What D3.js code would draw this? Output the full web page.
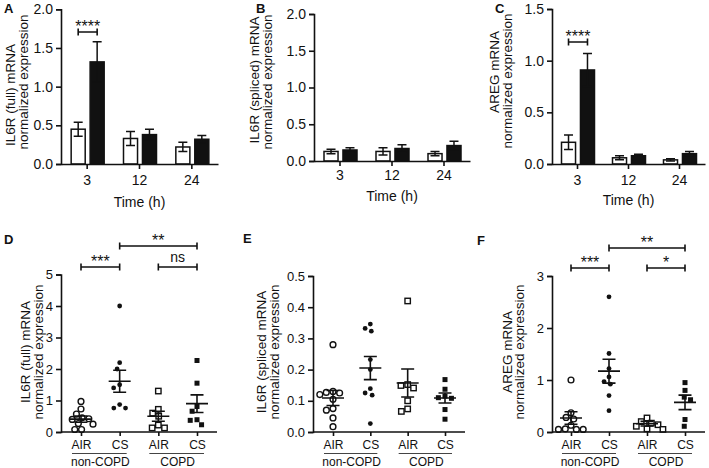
<!DOCTYPE html>
<html>
<head>
<meta charset="utf-8">
<script src="https://cdn.jsdelivr.net/npm/d3@7"></script>
<style>
  body { margin: 0; background: #fff; }
  svg { font-family: "Liberation Sans", Arial, sans-serif; }
</style>
</head>
<body>
<svg id="fig" width="709" height="468"></svg>
<script>
// ---- data ----
var times = ["3", "12", "24"];

var aAir = [0.45, 0.33, 0.22], aAirErr = [0.09, 0.09, 0.06];
var aCs = [1.32, 0.38, 0.32], aCsErr = [0.26, 0.07, 0.05];

var bAir = [0.13, 0.13, 0.10], bAirErr = [0.03, 0.05, 0.03];
var bCs = [0.15, 0.17, 0.21], bCsErr = [0.03, 0.05, 0.06];

var cAir = [0.21, 0.06, 0.04], cAirErr = [0.07, 0.02, 0.01];
var cCs = [0.91, 0.08, 0.10], cCsErr = [0.16, 0.015, 0.02];

var groups = ["ncAIR", "ncCS", "cAIR", "cCS"];
var groupLabels = ["AIR", "CS", "AIR", "CS"];
var cohortLabels = ["non-COPD", "COPD"];

var dPts = [
  [0.97, 0.73, 0.57, 0.45, 0.42, 0.40, 0.27, 0.25, 0.08, 0.08],
  [4.0, 2.2, 2.0, 1.5, 1.4, 0.87, 0.76, 0.76],
  [1.3, 0.72, 0.6, 0.5, 0.22, 0.13, 0.13],
  [2.27, 1.55, 0.81, 0.66, 0.39, 0.37, 0.23]
];
var dMean = [0.41, 1.61, 0.50, 0.90], dSem = [0.10, 0.35, 0.16, 0.28];

var ePts = [
  [0.28, 0.13, 0.127, 0.125, 0.12, 0.105, 0.075, 0.07, 0.045, 0.017],
  [0.346, 0.332, 0.323, 0.232, 0.2, 0.139, 0.125, 0.118, 0.027],
  [0.42, 0.152, 0.149, 0.141, 0.1, 0.074, 0.066],
  [0.168, 0.137, 0.115, 0.11, 0.108, 0.072, 0.041]
];
var eMean = [0.109, 0.205, 0.157, 0.109], eSem = [0.024, 0.037, 0.045, 0.016];

var fPts = [
  [1.0, 0.37, 0.28, 0.25, 0.13, 0.06, 0.05, 0.05, 0.05],
  [2.6, 1.51, 1.22, 1.06, 0.97, 0.92, 0.7, 0.41],
  [0.27, 0.2, 0.17, 0.14, 0.11, 0.06, 0.05],
  [0.95, 0.8, 0.67, 0.62, 0.24, 0.11]
];
var fMean = [0.27, 1.17, 0.16, 0.57], fSem = [0.12, 0.23, 0.045, 0.14];

var svg = d3.select("#fig");
var ink = "#111";

function yTitle(g, lines, xs, yc) {
  lines.forEach(function (t, i) {
    g.append("text")
      .attr("transform", "translate(" + xs[i] + "," + yc[i] + ") rotate(-90)")
      .attr("text-anchor", "middle").attr("dominant-baseline", "central")
      .attr("font-size", 13.5).attr("fill", ink).text(t);
  });
}

function letter(t, x, y) {
  svg.append("text").attr("x", x).attr("y", y).attr("font-size", 13)
    .attr("font-weight", "bold").attr("fill", ink).text(t);
}

function bracket(g, x1, x2, y, label, size, dy) {
  g.append("path")
    .attr("d", "M" + x1 + "," + (y - 3.5) + "V" + (y + 3.5) + "M" + x1 + "," + y + "H" + x2 +
      "M" + x2 + "," + (y - 3.5) + "V" + (y + 3.5))
    .attr("stroke", ink).attr("stroke-width", 1.6).attr("fill", "none");
  g.append("text").attr("x", (x1 + x2) / 2).attr("y", y + dy)
    .attr("text-anchor", "middle").attr("font-size", size).attr("fill", ink).text(label);
}

function styleAxis(a) {
  a.select(".domain").attr("stroke", ink).attr("stroke-width", 1.6);
  a.selectAll(".tick line").attr("stroke", ink).attr("stroke-width", 1.6);
  a.selectAll(".tick text").attr("fill", ink);
}

// ---- bar panels ----
function barPanel(p) {
  var g = svg.append("g");
  var x = d3.scaleBand().domain(times).range([p.x0, p.x1]);
  var y = d3.scaleLinear().domain([0, p.max]).range([p.yb, p.yt]);
  var inner = d3.scaleBand().domain(["air", "cs"]).range([-16, 17]).paddingInner(0.26);

  var series = [
    { key: "air", v: p.air, e: p.airErr, fill: "#fff" },
    { key: "cs", v: p.cs, e: p.csErr, fill: ink }
  ];
  series.forEach(function (s) {
    times.forEach(function (t, i) {
      var cx = x(t) + x.bandwidth() / 2 + inner(s.key);
      var mid = cx + inner.bandwidth() / 2;
      g.append("rect").attr("x", cx).attr("y", y(s.v[i]))
        .attr("width", inner.bandwidth()).attr("height", y(0) - y(s.v[i]))
        .attr("fill", s.fill).attr("stroke", ink).attr("stroke-width", 1.5);
      var hi = y(s.v[i] + s.e[i]), lo = y(Math.max(0, s.v[i] - s.e[i]));
      g.append("path")
        .attr("d", "M" + mid + "," + lo + "V" + hi + "M" + (mid - 4.5) + "," + hi + "H" + (mid + 4.5) +
          "M" + (mid - 4.5) + "," + lo + "H" + (mid + 4.5))
        .attr("stroke", ink).attr("stroke-width", 1.5).attr("fill", "none");
    });
  });

  var ya = g.append("g").attr("transform", "translate(" + p.x0 + ",0)")
    .call(d3.axisLeft(y).tickValues(p.ticks).tickFormat(d3.format(".1f")).tickSize(5).tickPadding(3));
  ya.selectAll("text").attr("font-size", 14);
  styleAxis(ya);
  var xa = g.append("g").attr("transform", "translate(0," + p.yb + ")")
    .call(d3.axisBottom(x).tickSize(5).tickSizeOuter(0).tickPadding(p.tickPad));
  xa.selectAll("text").attr("font-size", 14);
  styleAxis(xa);

  g.append("text").attr("x", (p.x0 + p.x1) / 2).attr("y", p.timeY).attr("text-anchor", "middle")
    .attr("font-size", 14).attr("fill", ink).text("Time (h)");
  yTitle(g, p.title, p.titleX, p.titleY);

  if (p.sig) {
    var c = x(times[0]) + x.bandwidth() / 2;
    bracket(g, c + inner("air") + inner.bandwidth() / 2, c + inner("cs") + inner.bandwidth() / 2,
      p.sig, "****", 16, 0);
  }
}

barPanel({ x0: 61, x1: 218, yb: 164, yt: 9.3, max: 2, ticks: [0, 0.5, 1, 1.5, 2],
  air: aAir, airErr: aAirErr, cs: aCs, csErr: aCsErr, tickPad: 6, timeY: 207,
  title: ["IL6R (full) mRNA", "normalized expression"], titleX: [10.5, 23.5], titleY: [95, 82], sig: 32 });
barPanel({ x0: 314, x1: 470, yb: 161, yt: 14, max: 2, ticks: [0, 0.5, 1, 1.5, 2],
  air: bAir, airErr: bAirErr, cs: bCs, csErr: bCsErr, tickPad: 4, timeY: 201,
  title: ["IL6R (spliced) mRNA", "normalized expression"], titleX: [254, 267.5], titleY: [80, 82] });
barPanel({ x0: 552, x1: 705, yb: 164, yt: 9, max: 1.5, ticks: [0, 0.5, 1, 1.5],
  air: cAir, airErr: cAirErr, cs: cCs, csErr: cCsErr, tickPad: 6, timeY: 205,
  title: ["AREG mRNA", "normalized expression"], titleX: [494, 507.5], titleY: [72, 81], sig: 42 });

letter("A", 4, 13);
letter("B", 256, 13);
letter("C", 495, 13);

// ---- scatter panels ----
function swarm(vals, y, diam) {
  var placed = [];
  return vals.map(function (v) {
    var py = y(v), blocked = [];
    placed.forEach(function (q) {
      var dy = Math.abs(q.y - py);
      if (dy < diam) {
        var dx = Math.sqrt(diam * diam - dy * dy);
        blocked.push([q.x - dx, q.x + dx]);
      }
    });
    var cands = [0];
    blocked.forEach(function (b) { cands.push(b[0], b[1]); });
    cands.sort(function (a, b) { return Math.abs(a) - Math.abs(b); });
    var px = cands.find(function (c) {
      return blocked.every(function (b) { return c <= b[0] + 1e-6 || c >= b[1] - 1e-6; });
    });
    placed.push({ x: px, y: py });
    return px;
  });
}

function dotPanel(p) {
  var g = svg.append("g");
  var x = d3.scalePoint().domain(groups).range(p.xr);
  var y = d3.scaleLinear().domain([0, p.max]).range([432, p.yt]);

  groups.forEach(function (grp, i) {
    var cx = x(grp);
    var offs = swarm(p.pts[i], y, 6.8);
    p.pts[i].forEach(function (v, j) {
      var px = cx + offs[j], py = y(v);
      if (i < 2) {
        g.append("circle").attr("cx", px).attr("cy", py).attr("r", i === 0 ? 2.9 : 2.4)
          .attr("fill", i === 0 ? "#fff" : ink).attr("stroke", ink).attr("stroke-width", i === 0 ? 1.4 : 0);
      } else {
        var s = i === 2 ? 5.4 : 5;
        g.append("rect").attr("x", px - s / 2).attr("y", py - s / 2).attr("width", s).attr("height", s)
          .attr("fill", i === 2 ? "#fff" : ink).attr("stroke", ink).attr("stroke-width", i === 2 ? 1.4 : 0);
      }
    });
    var m = y(p.mean[i]), hi = y(p.mean[i] + p.sem[i]), lo = y(p.mean[i] - p.sem[i]);
    g.append("path")
      .attr("d", "M" + (cx - 11) + "," + m + "H" + (cx + 11) + "M" + cx + "," + hi + "V" + lo +
        "M" + (cx - 6.5) + "," + hi + "H" + (cx + 6.5) + "M" + (cx - 6.5) + "," + lo + "H" + (cx + 6.5))
      .attr("stroke", ink).attr("stroke-width", 1.6).attr("fill", "none");
  });

  var ya = g.append("g").attr("transform", "translate(" + p.x0 + ",0)")
    .call(d3.axisLeft(y).tickValues(p.ticks).tickFormat(d3.format(p.fmt)).tickSize(5).tickPadding(3));
  ya.selectAll("text").attr("font-size", 13);
  styleAxis(ya);
  var xa = g.append("g").attr("transform", "translate(0,432)")
    .call(d3.axisBottom(x).tickSize(4).tickSizeOuter(0).tickPadding(4)
      .tickFormat(function (d, i) { return groupLabels[i]; }));
  xa.select(".domain").attr("d", "M" + p.x0 + ",0H" + p.x1);
  xa.selectAll("text").attr("font-size", 12);
  styleAxis(xa);

  cohortLabels.forEach(function (t, k) {
    var a = x(groups[2 * k]), b = x(groups[2 * k + 1]);
    g.append("line").attr("x1", a - 9).attr("x2", b + 7).attr("y1", 453.5).attr("y2", 453.5)
      .attr("stroke", "#444").attr("stroke-width", 1);
    g.append("text").attr("x", (a + b) / 2).attr("y", 465.5).attr("text-anchor", "middle")
      .attr("font-size", 12).attr("fill", ink).text(t);
  });

  yTitle(g, p.title, p.titleX, [352, 352]);

  (p.sig || []).forEach(function (s) {
    bracket(g, x(groups[s[0]]), x(groups[s[1]]), s[2], s[3], s[3] === "ns" ? 14 : 16, s[3] === "ns" ? -5 : 0);
  });
}

dotPanel({ x0: 61, x1: 217, xr: [81, 197], yt: 274.5, max: 5, ticks: [0, 1, 2, 3, 4, 5], fmt: "d",
  pts: dPts, mean: dMean, sem: dSem,
  title: ["IL6R (full) mRNA", "normalized expression"], titleX: [25, 38],
  sig: [[1, 3, 246, "**"], [0, 1, 267, "***"], [2, 3, 267, "ns"]] });
dotPanel({ x0: 313, x1: 465, xr: [333, 445], yt: 276, max: 0.5, ticks: [0, 0.1, 0.2, 0.3, 0.4, 0.5], fmt: ".1f",
  pts: ePts, mean: eMean, sem: eSem,
  title: ["IL6R (spliced mRNA", "normalized expression"], titleX: [261, 274] });
dotPanel({ x0: 552, x1: 705, xr: [571, 685], yt: 276, max: 3, ticks: [0, 1, 2, 3], fmt: "d",
  pts: fPts, mean: fMean, sem: fSem,
  title: ["AREG mRNA", "normalized expression"], titleX: [507, 519],
  sig: [[1, 3, 248, "**"], [0, 1, 268, "***"], [2, 3, 268, "*"]] });

letter("D", 4, 244);
letter("E", 243, 243);
letter("F", 477, 245);
</script>
</body>
</html>
